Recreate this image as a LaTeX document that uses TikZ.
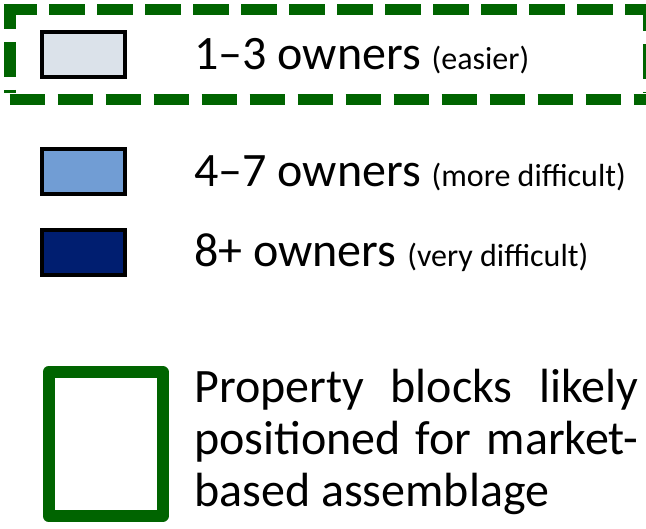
\documentclass[tikz,border=0pt]{standalone}
\usepackage{fontspec}
\setmainfont{Carlito}
\definecolor{legendgreen}{RGB}{0,100,0}
\definecolor{lowown}{RGB}{219,226,234}
\definecolor{midown}{RGB}{113,157,212}
\definecolor{highown}{RGB}{0,30,112}
\tikzset{
  swatch/.style={draw=black, line width=4pt},
  dashside/.style={draw=legendgreen, line width=11.5pt, dash pattern=on 35.5pt off 12.5pt},
  bigtxt/.style={anchor=base west, inner sep=0pt, font=\fontsize{48}{53}\selectfont}
}
\newcommand{\smalltext}[1]{{\fontsize{32}{37}\selectfont #1}}
\begin{document}
\begin{tikzpicture}[x=1pt, y=-1pt]
  \useasboundingbox (0,0) rectangle (646,529);
  \clip (0,0) rectangle (646,529);

  % dashed frame around the first entry, one side at a time
  \coordinate (ftl) at (10,9.5);
  \coordinate (ftr) at (649,9.5);
  \coordinate (fbl) at (10,99.5);
  \coordinate (fbr) at (649,99.5);
  \draw[dashside, dash phase=3pt] ([xshift=-6pt]ftl) -- ([xshift=6pt]ftr);
  \draw[dashside, dash phase=42.3pt] ([xshift=-6pt]fbl) -- ([xshift=6pt]fbr);
  \draw[dashside, dash phase=21.5pt] ([yshift=-6pt]ftl) -- ([yshift=6pt]fbl);
  \draw[dashside, dash phase=19.8pt] ([yshift=-6pt]ftr) -- ([yshift=6pt]fbr);

  % colour swatches
  \path[swatch, fill=lowown]  (42,32)  rectangle (125,77)  coordinate (s1);
  \path[swatch, fill=midown]  (42,149) rectangle (125,194) coordinate (s2);
  \path[swatch, fill=highown] (42,230) rectangle (125,275) coordinate (s3);

  % labels
  \node[bigtxt] (l1) at (194,70)  {1–3 owners \smalltext{(easier)}};
  \node[bigtxt] (l2) at (194,187) {4–7 owners \smalltext{(more difficult)}};
  \node[bigtxt] (l3) at (194,267) {8+ owners \smalltext{(very difficult)}};

  % solid green block marker
  \draw[legendgreen, line width=12pt, line join=round] (48.5,372) rectangle (162.5,516);

  % justified description
  \node[bigtxt] (p1) at (194,403) {\makebox[444pt][s]{Property blocks likely}};
  \node[bigtxt] (p2) at (194,455) {\makebox[444pt][s]{positioned for market-}};
  \node[bigtxt] (p3) at (194,507) {based assemblage};
\end{tikzpicture}
\end{document}
